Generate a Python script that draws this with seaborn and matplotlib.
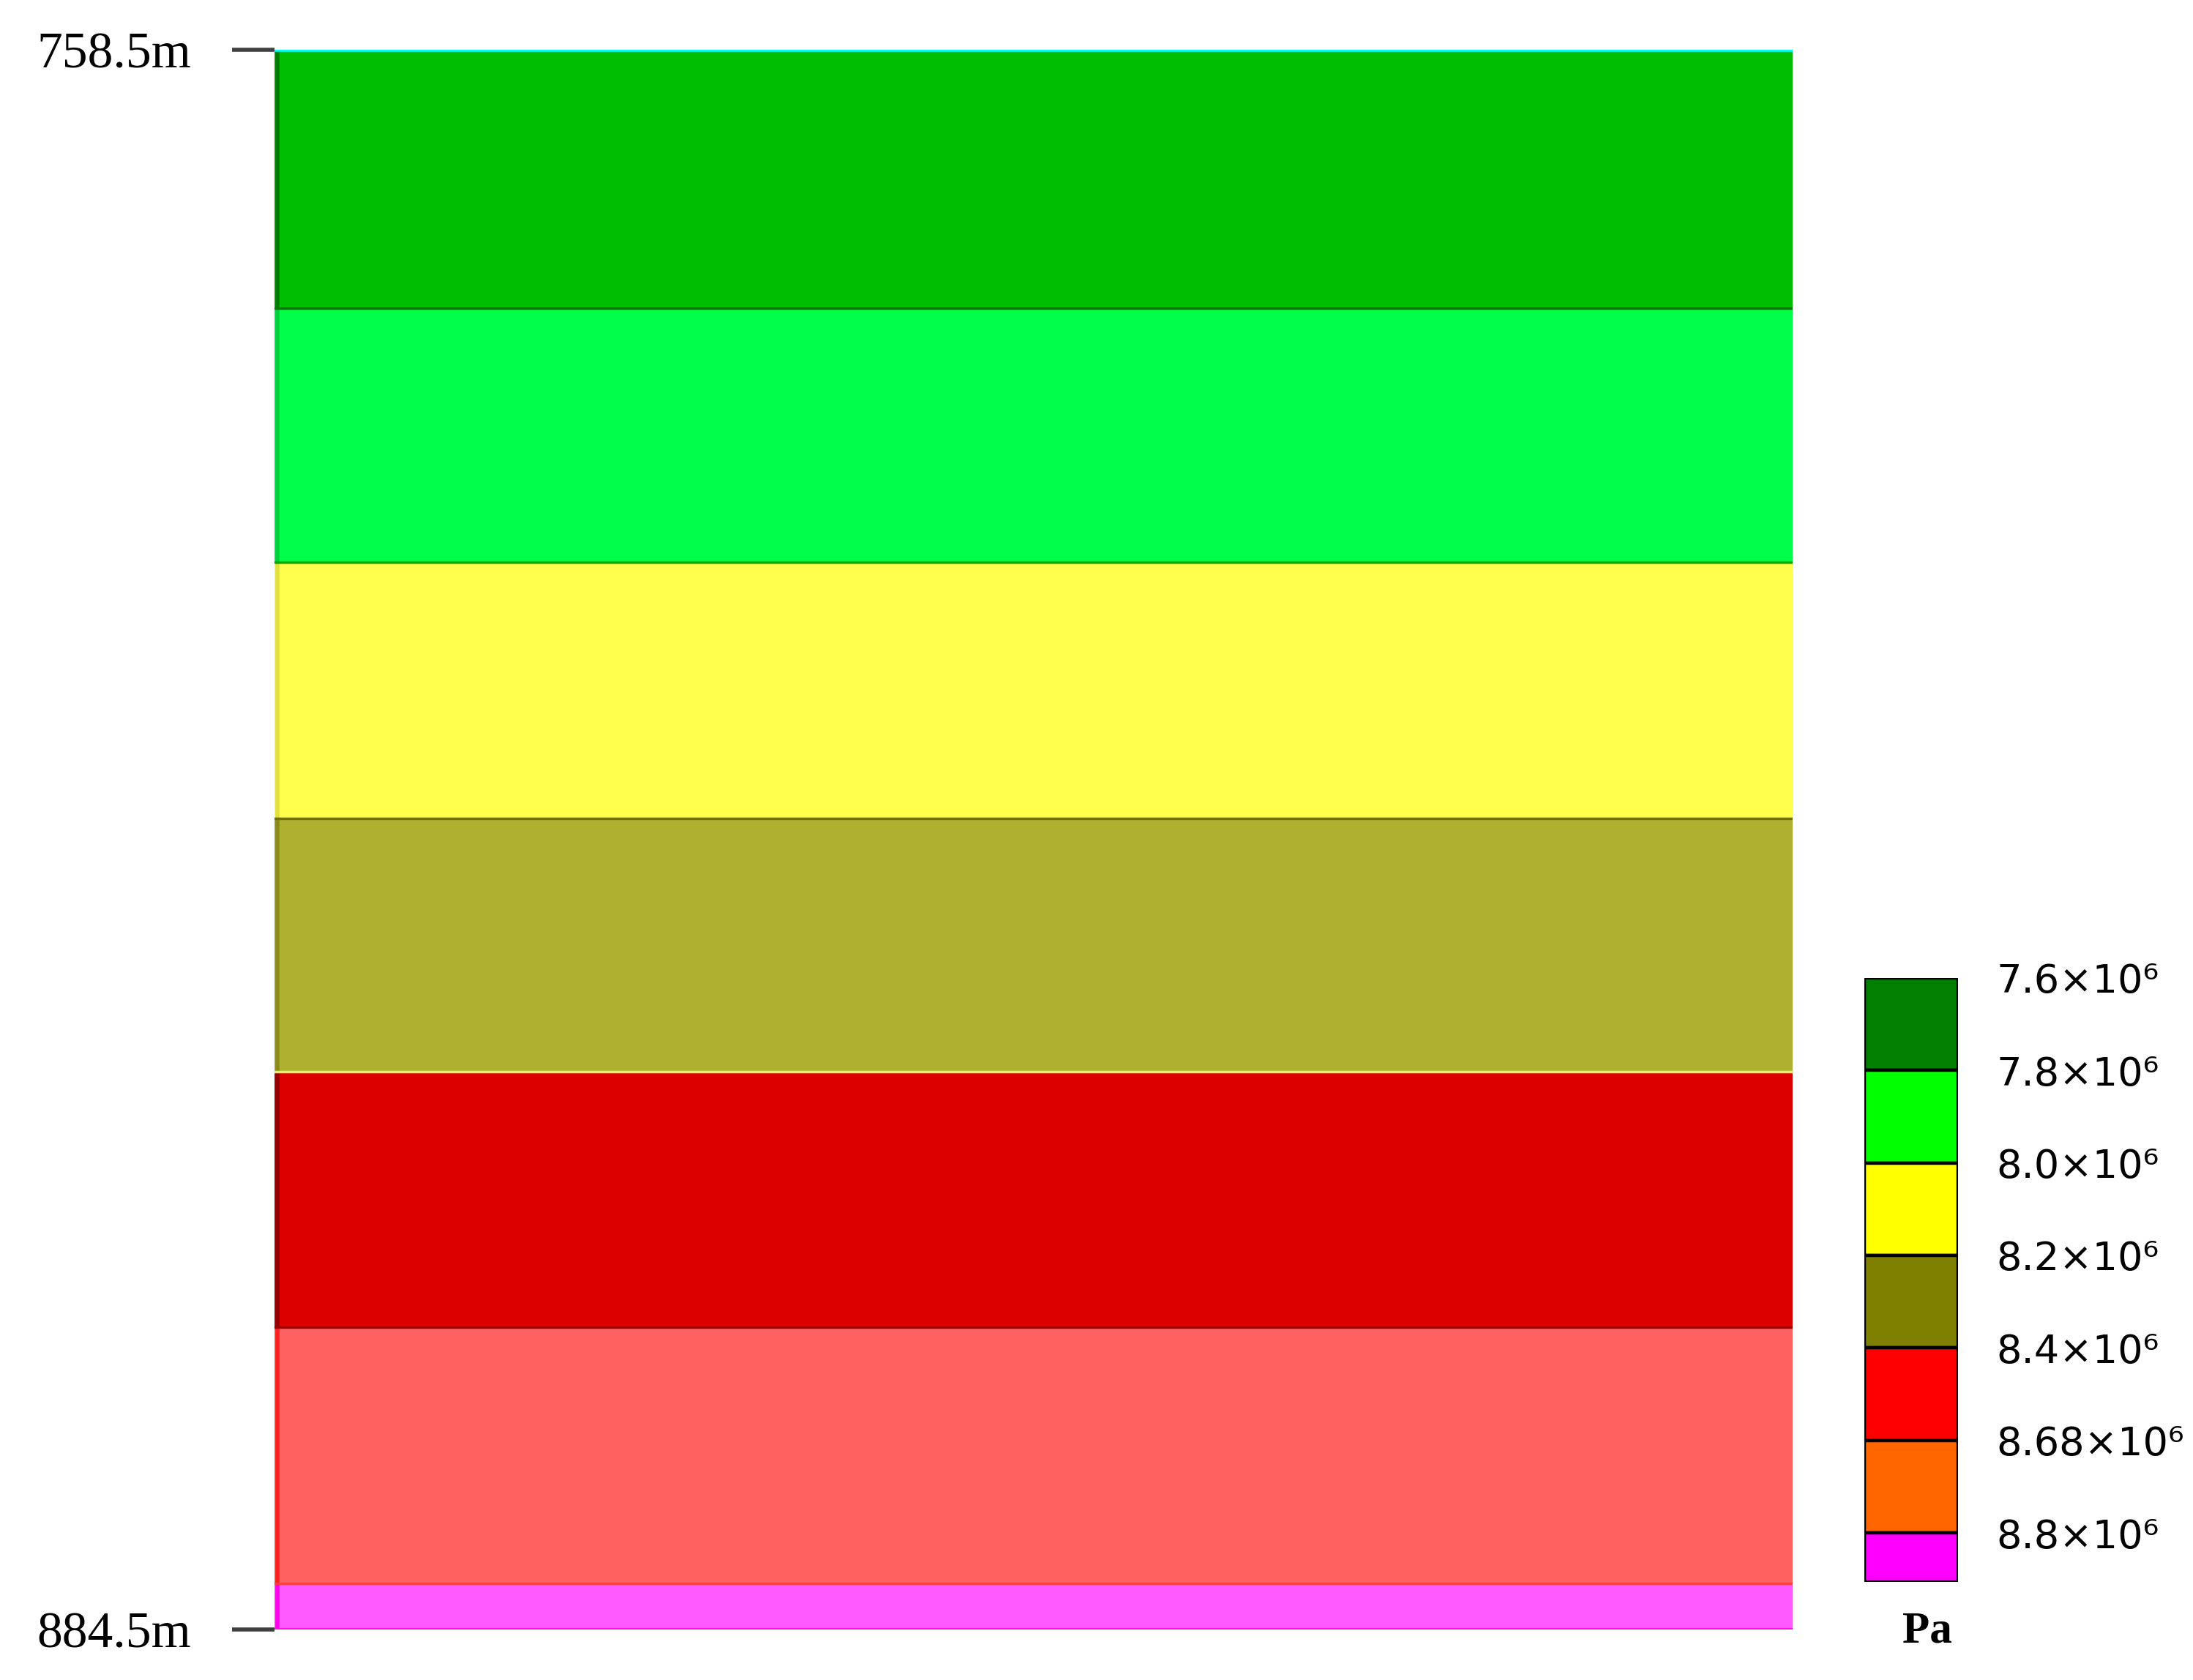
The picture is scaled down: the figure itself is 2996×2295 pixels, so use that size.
"""Pressure bands down a vertical section, with a stepped colour key."""

import numpy as np
import pandas as pd
import seaborn as sns
import matplotlib.pyplot as plt
from matplotlib.colors import ListedColormap

# depth range of the section (m) and the band edges
depth_top = 758.5
depth_bottom = 884.5
band_edges = [758.5, 779.1, 799.4, 819.8, 840.0, 860.4, 880.8, 884.5]
band_colors = ["#00BF00", "#00FF48", "#FFFF4C", "#B0B030", "#DC0000", "#FF6060", "#FF5AFF"]
band_shade = ["#007A00", "#00D040", "#E0E040", "#8A8A18", "#900000", "#FF2020", "#FF00E8"]
boundary_colors = ["#007A00", "#00A800", "#707010", "#E8F070", "#A00000", "#FF4040"]
depth_labels = ["758.5m", "884.5m"]

# colour key
legend_labels = ["7.6×10⁶", "7.8×10⁶", "8.0×10⁶", "8.2×10⁶", "8.4×10⁶", "8.68×10⁶", "8.8×10⁶"]
legend_colors = ["#007F00", "#00FF00", "#FFFF00", "#808000", "#FF0000", "#FF6600", "#FF00FF"]
legend_sizes = [1, 1, 1, 1, 1, 1, 0.53]
unit = "Pa"

step = 0.05
depth = np.arange(depth_top, depth_bottom, step) + step / 2
band = np.searchsorted(band_edges[1:-1], depth)
field = pd.DataFrame({"band": band}, index=depth)

sns.set_style("white")
plt.rcParams["text.color"] = "black"
plt.rcParams["ytick.color"] = "black"
plt.rcParams["ytick.labelcolor"] = "black"

fig = plt.figure(figsize=(29.96, 22.95), dpi=100)
ax = fig.add_axes([0.1252, 0.030, 0.6923, 0.9404])
sns.heatmap(
    field,
    ax=ax,
    cmap=ListedColormap(band_colors),
    vmin=-0.5,
    vmax=len(band_colors) - 0.5,
    cbar=False,
    xticklabels=False,
    yticklabels=False,
)


def row_of(d):
    return (d - depth_top) / step


# darker rims along the left side and band boundaries
for i, c in enumerate(band_shade):
    ax.plot([0.002, 0.002], [row_of(band_edges[i]), row_of(band_edges[i + 1])],
            color=c, lw=4, solid_capstyle="butt")
for i, c in enumerate(boundary_colors):
    ax.axhline(row_of(band_edges[i + 1]), color=c, lw=2.5)
ax.axhline(0, color="#00FFFF", lw=4)
ax.axhline(len(depth), color="#FF10E0", lw=3)

ax.set_yticks([0, len(depth)])
ax.set_yticklabels(depth_labels, rotation=0, fontsize=50, family="Liberation Serif",
                   color="black")
ax.tick_params(axis="y", left=True, length=42, width=4, color="#404040", pad=40)
ax.tick_params(axis="x", bottom=False)
for s in ax.spines.values():
    s.set_visible(False)

# colour key
ax_leg = fig.add_axes([0.8501, 0.0584, 0.0427, 0.3595])
tops = np.concatenate([[0], np.cumsum(legend_sizes)[:-1]])
ax_leg.bar(0, legend_sizes, bottom=tops, color=legend_colors, edgecolor="black",
           linewidth=3.2, width=1)
ax_leg.set_xlim(-0.5, 0.5)
ax_leg.set_ylim(sum(legend_sizes), 0)
ax_leg.yaxis.tick_right()
ax_leg.set_yticks(tops)
ax_leg.set_yticklabels(legend_labels, fontsize=39, family="DejaVu Sans", color="black")
ax_leg.tick_params(axis="y", right=True, left=False, length=0, pad=38)
ax_leg.set_xticks([])
for s in ax_leg.spines.values():
    s.set_visible(False)

fig.text(2633 / 2996, 1 - 2228 / 2295, unit, ha="center", va="center",
         fontsize=44, fontweight="bold", family="Liberation Serif", color="black")

fig.savefig("out.png", dpi=100)
